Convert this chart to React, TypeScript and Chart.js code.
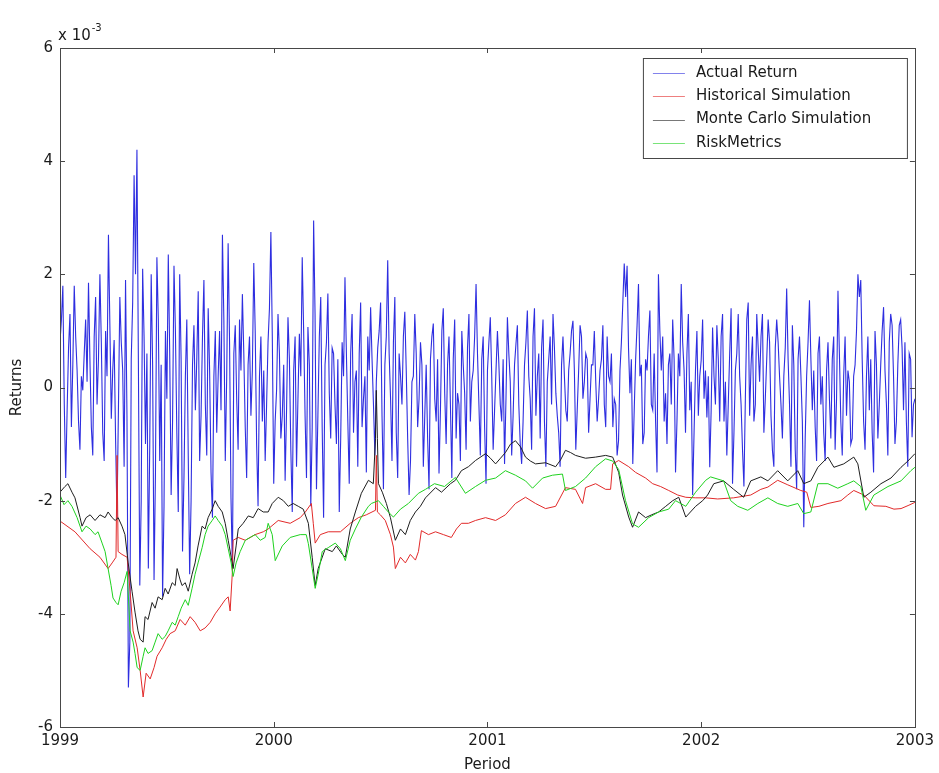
import React, { useEffect, useRef } from "react";
import { Chart, registerables } from "chart.js";

Chart.register(...registerables);

// ---------- data ----------
const X_TICKS = [1999, 2000, 2001, 2002, 2003];
const Y_TICKS = [-6, -4, -2, 0, 2, 4, 6];
const SERIES_NAMES = ["Actual Return", "Historical Simulation", "Monte Carlo Simulation", "RiskMetrics"];
const SERIES_COLORS = ["#2e2ee0", "#e22a2a", "#1e1e1e", "#1fd21f"];
const X_TITLE = "Period";
const Y_TITLE = "Returns";

// Actual return, sampled regularly from 1999 to 2003 (units of 1e-3)
const ACTUAL_START = 1999;
const ACTUAL_STEP = 4 / 600;
const actualReturn = [
  0.8, 1.2, 1.8, -0.3, -1.6, -0.4, 0.7, 1.3, -0.7, 0.4,
  1.8, 0.9, 0.3, -0.6, -1.1, 0.2, -0.05, 0.6, 1.2, 0.1,
  1.85, 0.5, -0.7, -1.2, 0.9, 1.6, -0.3, 0.5, 2.0, 0.8,
  -0.8, -1.3, 1.0, 0.2, 2.7, 1.1, -0.55, 0.3, 0.84, -0.9,
  -2.3, -0.4, 1.6, 0.8, 0.3, -1.4, 1.9, -0.5, -5.3, -4.5,
  0.5, 1.5, 3.75, 2.0, 4.2, 0.5, -3.5, -2.0, 2.1, 0.9,
  -1.0, 0.6, -3.2, -1.0, 2.0, 0.4, -3.4, -1.5, 2.3, 1.2,
  -1.3, 0.4, -3.7, -2.1, 1.0, -0.2, 2.35, 0.6, -1.9, -0.6,
  2.15, 1.0, -0.8, -2.2, 2.0, 0.5, -2.9, -1.6, 0.2, 1.2,
  -1.2, -3.3, -2.0, 0.4, 1.1, -0.4, 0.5, 1.7, -1.3, -0.5,
  0.9, 1.9, -0.3, -1.2, 1.4, 0.3, -1.5, -2.3, 0.2, 1.0,
  -0.8, 0.2, 1.0, -0.4, 2.7, 1.2, -1.3, 0.2, 2.55, 0.8,
  -1.95, -3.2, 0.6, 1.1, -0.2, -1.1, 1.2, 0.3, 1.65, 0.6,
  -0.7, -1.6, 0.4, 0.9, -0.5, 0.3, 2.2, 1.0, -1.0, -2.1,
  0.2, 0.9, -0.6, 0.3, -1.3, -0.3, 0.8, 1.4, 2.75, 0.9,
  -1.7, -0.6, -0.05, 1.3, 0.6, -0.9, -0.5, 0.4, -1.65, -0.4,
  1.24, 0.5, -1.1, -2.2, 0.3, 0.9, -1.4, -0.2, 0.95, 0.2,
  2.3, 1.0, -0.5, -1.6, 1.07, 0.4, -2.1, -0.7, 2.95, 1.3,
  -1.8, -0.5, 0.9, 1.6, -0.7, -2.3, 0.4, 0.8, 1.66, -0.1,
  -0.9, 0.7, 0.6, -0.3, -1.0, 0.5, -2.2, -0.9, 0.8, 0.2,
  1.95, 0.6, -0.6, -1.7, 0.6, 1.3, -0.8, 0.1, 0.3, -1.4,
  0.6, 1.5, -0.7, -0.2, 0.2, -1.5, 0.9, 0.3, 1.42, 0.5,
  -0.3, -1.2, 0.1, 0.7, 1.0, 1.5, -0.5, -1.8, 0.4, 0.9,
  2.25, 0.6, -0.2, -1.3, 0.8, 1.6, -0.8, -1.6, 0.6, 0.2,
  -0.3, 0.9, 1.34, 0.3, -0.9, -1.9, -1.29, 0.1, 0.2, 1.3,
  0.6, -0.7, -0.2, 0.8, 0.4, -1.4, -0.5, 0.4, -0.9, -1.8,
  0.5, 0.9, 1.13, -0.2, -0.6, 0.5, -1.52, -0.4, 1.0, 1.4,
  -0.1, -1.0, 0.4, 0.9, -0.3, -1.6, 0.5, 1.2, -0.9, -0.1,
  -0.3, -1.3, 1.0, 0.4, -0.1, -1.1, 0.7, 1.3, -0.6, 0.1,
  0.3, 0.9, 1.83, 0.6, -0.3, -1.2, 0.5, 0.9, -0.7, -1.7,
  0.3, 0.8, 1.24, 0.2, -1.1, -0.4, 0.3, 1.0, 0.42, -0.3,
  -0.6, 0.5, -1.35, -0.2, 1.24, 0.6, 0.1, -1.2, -0.5, 0.4,
  0.77, 1.1, -0.3, -1.0, -1.35, -0.6, 0.4, 0.8, 1.36, 0.2,
  -0.2, -1.1, 0.9, 1.4, -0.5, 0.2, 0.6, -0.9, 0.7, 1.2,
  -0.6, -1.4, 0.1, 0.5, 0.9, -0.3, 1.3, 0.7, -0.1, -0.5,
  -0.8, -1.4, 0.4, 0.9, 0.2, -0.4, -0.6, 0.3, 0.6, 1.0,
  1.18, 0.3, -1.1, -0.4, 0.3, 1.1, 0.9, -0.2, 0.1, 0.6,
  0.5, -0.8, -0.2, 0.4, 0.4, 1.0, 0.1, -0.6, -0.2, 0.3,
  0.5, 1.1, -0.3, -0.7, 0.9, 0.2, 0.1, 0.6, -0.7, -0.2,
  -0.3, -1.2, -0.94, 0.3, 0.8, 1.5, 2.19, 1.6, 2.15, 0.7,
  -0.1, 0.5, -1.35, -0.4, 0.5, 1.1, 1.83, 0.2, 0.4, -1.0,
  -0.8, 0.5, 0.3, 0.9, 1.36, -0.3, -0.4, 0.6, -0.6, -1.5,
  2.0, 1.0, 0.3, 0.9, -0.6, -0.1, -1.0, 0.4, 0.6, -0.3,
  1.2, 0.5, -1.5, -0.6, 0.6, 0.2, 1.83, 0.8, 0.3, -0.8,
  0.6, 1.3, -0.4, 0.1, -1.9, -0.8, 0.3, 1.0, -0.5, 0.2,
  0.48, 1.2, -0.2, 0.3, -0.53, 0.2, -1.41, -0.4, 1.06, 0.2,
  -0.3, 1.1, 0.5, -0.6, 0.9, 1.3, -0.6, 0.1, -1.2, -0.3,
  0.6, 1.4, -1.7, -0.8, 0.3, 0.6, 1.3, 0.2, -0.3, -1.1,
  -1.75, -0.2, 1.2, 1.5, -0.5, 0.4, 0.9, -0.6, -0.3, 1.3,
  0.7, 0.1, 0.9, 1.3, -0.8, -0.2, 0.5, 1.2, 0.8, -0.5,
  -1.11, -1.4, 0.7, 1.2, 0.8, 0.2, -0.3, -0.9, 0.2, 0.7,
  1.75, 0.5, -0.3, -1.4, 1.1, 0.4, -1.1, -1.8, 0.5, 0.9,
  0.2, -0.6, -2.47, -0.9, 0.2, 0.8, 1.54, 0.5, -0.4, 0.3,
  -0.7, -1.3, 0.6, 0.9, -0.3, 0.2, -0.8, -1.3, 0.3, 0.8,
  -0.2, -0.9, 0.5, 0.9, -1.1, -0.2, 1.71, 0.6, -0.6, -1.2,
  0.2, 0.9, -0.5, 0.3, 0.1, -1.0, -0.9, 0.2, 0.4, 1.0,
  2.0, 1.6, 1.9, 0.5, -0.6, -1.1, 0.2, 0.9, -0.4, 0.5,
  -0.8, -1.5, 1.0, 0.4, -0.9, -0.3, 0.4, 1.0, 1.42, 0.3,
  -0.3, -1.2, 0.8, 1.3, 1.1, 0.2, -1.0, -0.6, 0.4, 1.1,
  1.2, 0.7, -0.4, 0.8, -0.6, -1.4, 0.6, 0.5, -0.88, -0.3,
  -0.2,
];

// Historical Simulation
const hsDates = [
  1999.000, 1999.070, 1999.141, 1999.187, 1999.225, 1999.244, 1999.262, 1999.267, 1999.272, 1999.290,
  1999.314, 1999.328, 1999.342, 1999.361, 1999.375, 1999.389, 1999.403, 1999.422, 1999.440, 1999.454,
  1999.478, 1999.497, 1999.515, 1999.539, 1999.562, 1999.586, 1999.609, 1999.632, 1999.656, 1999.679,
  1999.703, 1999.726, 1999.749, 1999.773, 1999.787, 1999.796, 1999.806, 1999.810, 1999.834, 1999.867,
  1999.913, 1999.951, 1999.974, 2000.021, 2000.077, 2000.124, 2000.148, 2000.176, 2000.185, 2000.194,
  2000.218, 2000.255, 2000.312, 2000.358, 2000.396, 2000.433, 2000.476, 2000.480, 2000.485, 2000.499,
  2000.522, 2000.546, 2000.560, 2000.569, 2000.593, 2000.616, 2000.639, 2000.663, 2000.677, 2000.691,
  2000.724, 2000.757, 2000.794, 2000.831, 2000.855, 2000.878, 2000.911, 2000.944, 2000.991, 2001.038,
  2001.084, 2001.131, 2001.178, 2001.225, 2001.272, 2001.319, 2001.365, 2001.412, 2001.445, 2001.459,
  2001.506, 2001.553, 2001.576, 2001.586, 2001.614, 2001.661, 2001.693, 2001.740, 2001.773, 2001.810,
  2001.848, 2001.890, 2001.928, 2001.974, 2002.021, 2002.077, 2002.152, 2002.232, 2002.279, 2002.312,
  2002.358, 2002.405, 2002.466, 2002.494, 2002.513, 2002.551, 2002.593, 2002.654, 2002.686, 2002.714,
  2002.761, 2002.808, 2002.864, 2002.902, 2002.935, 2002.972, 2003.000,
];
const hsValues = [
  -2.36, -2.55, -2.85, -3.0, -3.2, -3.1, -3.0, -1.2, -2.9, -2.95,
  -3.0, -3.6, -4.3, -4.6, -5.0, -5.47, -5.05, -5.15, -4.95, -4.75,
  -4.6, -4.45, -4.35, -4.3, -4.1, -4.2, -4.05, -4.15, -4.3, -4.25,
  -4.15, -4.0, -3.88, -3.75, -3.7, -3.95, -3.3, -2.7, -2.65, -2.7,
  -2.6, -2.55, -2.5, -2.35, -2.4, -2.3, -2.2, -2.05, -2.4, -2.75,
  -2.6, -2.55, -2.55, -2.4, -2.3, -2.25, -2.17, -1.2, -2.2, -2.25,
  -2.35, -2.6, -2.82, -3.2, -3.0, -3.1, -2.95, -3.05, -2.9, -2.53,
  -2.6, -2.55, -2.6, -2.65, -2.5, -2.4, -2.4, -2.35, -2.3, -2.35,
  -2.25, -2.05, -1.94, -2.05, -2.14, -2.1, -1.77, -1.8, -2.05, -1.77,
  -1.7, -1.8, -1.8, -1.35, -1.29, -1.4, -1.5, -1.6, -1.7, -1.75,
  -1.82, -1.9, -1.94, -1.95, -1.95, -1.97, -1.95, -1.9, -1.8, -1.76,
  -1.64, -1.72, -1.82, -1.85, -2.12, -2.1, -2.05, -2.0, -1.9, -1.82,
  -1.9, -2.09, -2.1, -2.15, -2.14, -2.08, -2.03,
];

// Monte Carlo Simulation
const mcDates = [
  1999.000, 1999.023, 1999.037, 1999.056, 1999.070, 1999.094, 1999.103, 1999.122, 1999.141, 1999.164,
  1999.187, 1999.211, 1999.225, 1999.244, 1999.258, 1999.272, 1999.290, 1999.304, 1999.319, 1999.337,
  1999.351, 1999.365, 1999.375, 1999.389, 1999.398, 1999.412, 1999.431, 1999.445, 1999.459, 1999.478,
  1999.492, 1999.506, 1999.525, 1999.539, 1999.548, 1999.562, 1999.571, 1999.586, 1999.600, 1999.618,
  1999.632, 1999.646, 1999.665, 1999.679, 1999.693, 1999.712, 1999.726, 1999.740, 1999.759, 1999.773,
  1999.787, 1999.801, 1999.810, 1999.824, 1999.834, 1999.857, 1999.881, 1999.904, 1999.927, 1999.951,
  1999.974, 1999.993, 2000.021, 2000.045, 2000.068, 2000.091, 2000.115, 2000.138, 2000.162, 2000.180,
  2000.194, 2000.208, 2000.241, 2000.274, 2000.293, 2000.321, 2000.335, 2000.358, 2000.382, 2000.410,
  2000.443, 2000.466, 2000.476, 2000.480, 2000.485, 2000.490, 2000.508, 2000.527, 2000.546, 2000.569,
  2000.593, 2000.616, 2000.639, 2000.663, 2000.686, 2000.710, 2000.757, 2000.785, 2000.827, 2000.850,
  2000.878, 2000.911, 2000.944, 2000.991, 2001.014, 2001.038, 2001.061, 2001.084, 2001.108, 2001.131,
  2001.155, 2001.178, 2001.201, 2001.225, 2001.272, 2001.319, 2001.342, 2001.365, 2001.389, 2001.412,
  2001.459, 2001.506, 2001.553, 2001.586, 2001.614, 2001.632, 2001.661, 2001.679, 2001.707, 2001.740,
  2001.768, 2001.801, 2001.834, 2001.867, 2001.895, 2001.928, 2001.974, 2002.007, 2002.030, 2002.059,
  2002.105, 2002.152, 2002.199, 2002.232, 2002.279, 2002.312, 2002.358, 2002.405, 2002.452, 2002.480,
  2002.513, 2002.546, 2002.593, 2002.621, 2002.667, 2002.714, 2002.733, 2002.761, 2002.794, 2002.841,
  2002.888, 2002.935, 2002.967, 2003.000,
];
const mcValues = [
  -1.85, -1.75, -1.7, -1.85, -1.95, -2.3, -2.45, -2.3, -2.25, -2.35,
  -2.25, -2.3, -2.2, -2.3, -2.35, -2.3, -2.45, -2.6, -3.1, -3.6,
  -3.97, -4.3, -4.45, -4.5, -4.05, -4.1, -3.8, -3.9, -3.7, -3.75,
  -3.55, -3.65, -3.45, -3.5, -3.2, -3.4, -3.5, -3.45, -3.6, -3.3,
  -3.1, -2.8, -2.45, -2.5, -2.3, -2.15, -2.0, -2.1, -2.2, -2.4,
  -2.7, -3.0, -3.2, -2.8, -2.5, -2.4, -2.27, -2.3, -2.14, -2.2,
  -2.2, -2.05, -1.94, -2.0, -2.1, -2.05, -2.1, -2.15, -2.4, -3.0,
  -3.5, -3.2, -2.85, -2.9, -2.8, -2.95, -3.0, -2.5, -2.2, -1.87,
  -1.64, -1.7, -0.9, -0.05, -0.9, -1.7, -1.85, -2.05, -2.3, -2.7,
  -2.5, -2.6, -2.35, -2.2, -2.1, -1.95, -1.77, -1.85, -1.7, -1.64,
  -1.47, -1.4, -1.29, -1.17, -1.25, -1.35, -1.25, -1.15, -1.0, -0.94,
  -1.05, -1.23, -1.3, -1.35, -1.33, -1.4, -1.28, -1.11, -1.15, -1.2,
  -1.25, -1.23, -1.2, -1.23, -1.5, -1.9, -2.29, -2.47, -2.2, -2.3,
  -2.25, -2.2, -2.1, -2.0, -1.94, -2.29, -2.1, -2.0, -1.9, -1.7,
  -1.65, -1.8, -1.94, -1.65, -1.58, -1.65, -1.47, -1.65, -1.47, -1.7,
  -1.65, -1.41, -1.23, -1.41, -1.35, -1.23, -1.35, -1.94, -1.85, -1.7,
  -1.6, -1.41, -1.3, -1.17,
];

// RiskMetrics
const rmDates = [
  1999.000, 1999.019, 1999.037, 1999.056, 1999.080, 1999.103, 1999.122, 1999.141, 1999.164, 1999.178,
  1999.197, 1999.211, 1999.225, 1999.239, 1999.248, 1999.262, 1999.272, 1999.286, 1999.300, 1999.314,
  1999.328, 1999.342, 1999.351, 1999.361, 1999.375, 1999.389, 1999.398, 1999.412, 1999.431, 1999.445,
  1999.459, 1999.478, 1999.492, 1999.506, 1999.525, 1999.539, 1999.553, 1999.567, 1999.586, 1999.600,
  1999.618, 1999.632, 1999.646, 1999.665, 1999.679, 1999.693, 1999.712, 1999.726, 1999.740, 1999.759,
  1999.773, 1999.787, 1999.801, 1999.810, 1999.824, 1999.843, 1999.867, 1999.890, 1999.913, 1999.937,
  1999.960, 1999.974, 1999.993, 2000.007, 2000.040, 2000.077, 2000.124, 2000.152, 2000.162, 2000.180,
  2000.194, 2000.208, 2000.227, 2000.255, 2000.288, 2000.312, 2000.335, 2000.358, 2000.382, 2000.410,
  2000.443, 2000.457, 2000.490, 2000.513, 2000.536, 2000.560, 2000.593, 2000.630, 2000.677, 2000.710,
  2000.752, 2000.799, 2000.850, 2000.897, 2000.944, 2000.991, 2001.038, 2001.084, 2001.131, 2001.178,
  2001.211, 2001.258, 2001.304, 2001.351, 2001.365, 2001.412, 2001.459, 2001.506, 2001.553, 2001.586,
  2001.614, 2001.646, 2001.679, 2001.707, 2001.754, 2001.801, 2001.848, 2001.880, 2001.928, 2001.974,
  2002.021, 2002.044, 2002.105, 2002.138, 2002.171, 2002.218, 2002.265, 2002.312, 2002.358, 2002.405,
  2002.452, 2002.480, 2002.513, 2002.546, 2002.593, 2002.639, 2002.686, 2002.714, 2002.747, 2002.770,
  2002.808, 2002.874, 2002.935, 2002.981, 2003.000,
];
const rmValues = [
  -1.9, -2.07, -2.0, -2.1, -2.3, -2.55, -2.45, -2.5, -2.6, -2.55,
  -2.75, -2.9, -3.2, -3.5, -3.72, -3.8, -3.84, -3.6, -3.45, -3.25,
  -4.3, -4.5, -4.7, -4.95, -5.0, -4.75, -4.6, -4.7, -4.65, -4.5,
  -4.35, -4.45, -4.4, -4.3, -4.15, -4.2, -4.05, -3.9, -3.75, -3.85,
  -3.55, -3.3, -3.1, -2.83, -2.6, -2.45, -2.35, -2.27, -2.35, -2.45,
  -2.6, -2.85, -3.1, -3.34, -3.1, -2.9, -2.7, -2.65, -2.6, -2.7,
  -2.65, -2.4, -2.6, -3.06, -2.8, -2.65, -2.6, -2.6, -2.76, -3.2,
  -3.55, -3.3, -2.9, -2.83, -2.75, -2.85, -3.06, -2.7, -2.5, -2.29,
  -2.1, -2.05, -2.0, -2.1, -2.2, -2.29, -2.15, -2.05, -1.87, -1.8,
  -1.7, -1.75, -1.59, -1.87, -1.75, -1.64, -1.6, -1.47, -1.55, -1.65,
  -1.78, -1.6, -1.55, -1.53, -1.82, -1.75, -1.6, -1.4, -1.26, -1.3,
  -1.45, -2.0, -2.41, -2.47, -2.3, -2.2, -2.15, -2.0, -2.1, -1.85,
  -1.64, -1.58, -1.65, -2.0, -2.1, -2.17, -2.05, -1.95, -2.05, -2.1,
  -2.05, -2.23, -2.2, -1.7, -1.7, -1.78, -1.7, -1.65, -1.75, -2.17,
  -1.9, -1.75, -1.65, -1.47, -1.41,
];

// ---------- helpers ----------
const pairs = (xs: number[], ys: number[]) => ys.map((y, i) => ({ x: xs[i], y }));
const actualPoints = actualReturn.map((y, i) => ({ x: ACTUAL_START + i * ACTUAL_STEP, y }));

const FONT = "'DejaVu Sans', 'Liberation Sans', Arial, sans-serif";
const TEXT_COLOR = "#1a1a1a";
const FRAME_COLOR = "#474747";

const decorPlugin = {
  id: "decor",
  beforeDraw(chart: any) {
    const { ctx, width, height } = chart;
    ctx.save();
    ctx.fillStyle = "#ffffff";
    ctx.fillRect(0, 0, width, height);
    ctx.restore();
  },
  afterDatasetsDraw(chart: any) {
    const { ctx, chartArea: a, scales } = chart;
    const xs = scales.x;
    const ys = scales.y;
    ctx.save();
    // frame
    ctx.strokeStyle = FRAME_COLOR;
    ctx.lineWidth = 1;
    ctx.strokeRect(Math.round(a.left) + 0.5, Math.round(a.top) + 0.5, Math.round(a.right - a.left), Math.round(a.bottom - a.top));
    // inward ticks
    const TL = 5;
    ctx.beginPath();
    for (const v of X_TICKS) {
      const px = Math.round(xs.getPixelForValue(v)) + 0.5;
      ctx.moveTo(px, a.bottom);
      ctx.lineTo(px, a.bottom - TL);
      ctx.moveTo(px, a.top);
      ctx.lineTo(px, a.top + TL);
    }
    for (const v of Y_TICKS) {
      const py = Math.round(ys.getPixelForValue(v)) + 0.5;
      ctx.moveTo(a.left, py);
      ctx.lineTo(a.left + TL, py);
      ctx.moveTo(a.right, py);
      ctx.lineTo(a.right - TL, py);
    }
    ctx.stroke();

    // exponent label
    ctx.fillStyle = TEXT_COLOR;
    ctx.textBaseline = "alphabetic";
    ctx.textAlign = "left";
    ctx.font = `15px ${FONT}`;
    ctx.fillText("x 10", a.left - 2, a.top - 8);
    const w = ctx.measureText("x 10").width;
    ctx.font = `10px ${FONT}`;
    ctx.fillText("-3", a.left - 2 + w + 1, a.top - 17);

    // axis titles
    ctx.font = `15px ${FONT}`;
    ctx.textAlign = "center";
    ctx.textBaseline = "middle";
    ctx.fillText(X_TITLE, (a.left + a.right) / 2, a.bottom + 38);
    ctx.save();
    ctx.translate(17, (a.top + a.bottom) / 2);
    ctx.rotate(-Math.PI / 2);
    ctx.fillText(Y_TITLE, 0, 0);
    ctx.restore();

    // legend
    const lx = a.right - 272;
    const ly = a.top + 10;
    const lw = 264;
    const lh = 100;
    ctx.fillStyle = "#ffffff";
    ctx.fillRect(lx, ly, lw, lh);
    ctx.strokeStyle = FRAME_COLOR;
    ctx.strokeRect(lx + 0.5, ly + 0.5, lw, lh);
    ctx.font = `15px ${FONT}`;
    ctx.textAlign = "left";
    ctx.textBaseline = "middle";
    SERIES_NAMES.forEach((name, i) => {
      const cy = ly + 15 + i * 23.3;
      ctx.strokeStyle = SERIES_COLORS[i];
      ctx.globalAlpha = 0.6;
      ctx.lineWidth = 1;
      ctx.beginPath();
      ctx.moveTo(lx + 10, Math.round(cy) + 0.5);
      ctx.lineTo(lx + 42, Math.round(cy) + 0.5);
      ctx.stroke();
      ctx.globalAlpha = 1;
      ctx.fillStyle = TEXT_COLOR;
      ctx.fillText(name, lx + 53, cy);
    });
    ctx.restore();
  },
};

export default function App() {
  const canvasRef = useRef<HTMLCanvasElement | null>(null);

  useEffect(() => {
    if (!canvasRef.current) return;
    const series = [
      actualPoints,
      pairs(hsDates, hsValues),
      pairs(mcDates, mcValues),
      pairs(rmDates, rmValues),
    ];
    const chart = new Chart(canvasRef.current, {
      type: "line",
      data: {
        datasets: series.map((data, i) => ({
          label: SERIES_NAMES[i],
          data,
          borderColor: SERIES_COLORS[i],
          backgroundColor: SERIES_COLORS[i],
          borderWidth: i === 0 ? 1.1 : 1,
          pointRadius: 0,
          tension: 0,
          fill: false,
          order: 4 - i,
        })),
      },
      options: {
        animation: false,
        responsive: false,
        maintainAspectRatio: false,
        events: [],
        layout: { padding: { top: 48, right: 22, bottom: 0, left: 0 } },
        plugins: { legend: { display: false }, tooltip: { enabled: false }, title: { display: false } },
        scales: {
          x: {
            type: "linear",
            min: X_TICKS[0],
            max: X_TICKS[X_TICKS.length - 1],
            grid: { display: false, drawTicks: false },
            border: { display: false },
            afterFit: (s: any) => { s.height = 46; },
            ticks: {
              stepSize: 1,
              autoSkip: false,
              maxRotation: 0,
              padding: 5,
              color: TEXT_COLOR,
              font: { family: FONT, size: 15 },
              callback: (v: any) => String(v),
            },
          },
          y: {
            type: "linear",
            min: Y_TICKS[0],
            max: Y_TICKS[Y_TICKS.length - 1],
            grid: { display: false, drawTicks: false },
            border: { display: false },
            afterFit: (s: any) => { s.width = 60; },
            ticks: {
              stepSize: 2,
              padding: 7,
              color: TEXT_COLOR,
              font: { family: FONT, size: 15 },
              callback: (v: any) => String(v),
            },
          },
        },
      },
      plugins: [decorPlugin],
    });
    return () => chart.destroy();
  }, []);

  return (
    <div style={{ position: "absolute", left: 0, top: 0, width: 939, height: 773, background: "#fff" }}>
      <canvas ref={canvasRef} width={939} height={773} style={{ display: "block", width: 939, height: 773 }} />
    </div>
  );
}
